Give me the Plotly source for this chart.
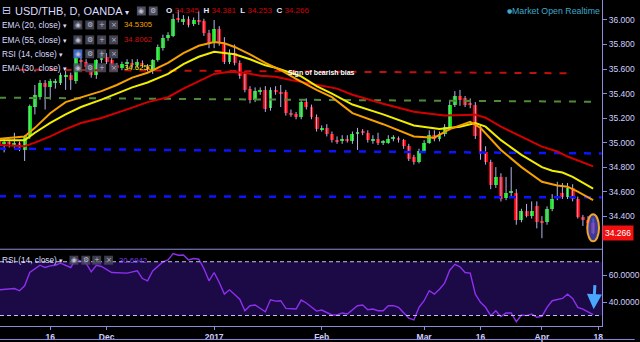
import plotly.graph_objects as go

# ---------------- data ----------------
opens = [35.02, 34.99, 35.00, 34.97, 35.00, 34.94, 35.05, 35.29, 35.37, 35.49,
         35.45, 35.49, 35.49, 35.54, 35.55, 35.50, 35.67, 35.66, 35.62, 35.55,
         35.67, 35.70, 35.67, 35.63, 35.61, 35.64, 35.65, 35.63, 35.65, 35.62,
         35.58, 35.67, 35.77, 35.85, 35.87, 36.01, 35.98, 36.01, 35.97, 36.00,
         35.99, 35.89, 35.81, 35.93, 35.81, 35.66, 35.73, 35.65, 35.56, 35.44,
         35.35, 35.42, 35.43, 35.28, 35.43, 35.41, 35.41, 35.24, 35.23, 35.21,
         35.33, 35.29, 35.21, 35.11, 35.12, 35.07, 35.02, 35.01, 35.03, 35.01,
         35.07, 35.09, 35.08, 35.02, 35.03, 35.00, 35.00, 35.03, 35.04, 35.02,
         34.97, 34.88, 34.84, 34.93, 35.00, 35.06, 35.03, 35.07, 35.12, 35.31,
         35.38, 35.36, 35.32, 35.31, 35.13, 34.92, 34.84, 34.65, 34.72, 34.55,
         34.59, 34.59, 34.37, 34.44, 34.40, 34.48, 34.36, 34.35, 34.46, 34.55,
         34.59, 34.56, 34.63, 34.54, 34.39, 34.37, 34.345]
highs = [35.04, 35.03, 35.02, 35.08, 35.01, 35.06, 35.31, 35.47, 35.51, 35.51,
         35.52, 35.52, 35.57, 35.61, 35.57, 35.70, 35.70, 35.68, 35.63, 35.68,
         35.75, 35.73, 35.69, 35.65, 35.66, 35.68, 35.68, 35.68, 35.67, 35.64,
         35.68, 35.80, 35.88, 35.90, 36.05, 36.08, 36.04, 36.03, 36.02, 36.07,
         36.01, 35.92, 36.00, 35.95, 35.86, 35.76, 35.80, 35.67, 35.58, 35.46,
         35.45, 35.45, 35.46, 35.45, 35.46, 35.47, 35.43, 35.27, 35.25, 35.35,
         35.36, 35.31, 35.23, 35.14, 35.15, 35.09, 35.05, 35.06, 35.06, 35.09,
         35.12, 35.11, 35.10, 35.06, 35.08, 35.02, 35.06, 35.06, 35.05, 35.03,
         34.99, 34.90, 34.95, 35.02, 35.10, 35.10, 35.09, 35.15, 35.34, 35.42,
         35.43, 35.38, 35.36, 35.33, 35.15, 34.97, 34.86, 34.80, 34.75, 34.72,
         34.80, 34.62, 34.46, 34.50, 34.52, 34.52, 34.40, 34.48, 34.58, 34.68,
         34.67, 34.67, 34.66, 34.56, 34.41, 34.40, 34.381]
lows = [34.95, 34.92, 34.96, 34.95, 34.93, 34.85, 35.03, 35.23, 35.35, 35.27,
        35.35, 35.44, 35.47, 35.43, 35.43, 35.48, 35.62, 35.60, 35.53, 35.52,
        35.65, 35.64, 35.60, 35.58, 35.59, 35.60, 35.61, 35.61, 35.61, 35.58,
        35.56, 35.66, 35.75, 35.83, 35.86, 35.98, 35.96, 35.94, 35.95, 35.96,
        35.87, 35.77, 35.77, 35.79, 35.64, 35.64, 35.63, 35.52, 35.41, 35.32,
        35.33, 35.39, 35.25, 35.26, 35.39, 35.29, 35.22, 35.21, 35.19, 35.19,
        35.27, 35.19, 35.09, 35.09, 35.05, 35.00, 34.99, 34.99, 35.00, 34.99,
        34.94, 35.06, 35.00, 34.99, 34.98, 34.98, 34.99, 35.01, 35.00, 34.95,
        34.85, 34.82, 34.83, 34.92, 34.99, 35.01, 35.01, 35.05, 35.10, 35.29,
        35.30, 35.29, 35.28, 35.03, 34.86, 34.82, 34.62, 34.63, 34.52, 34.53,
        34.55, 34.33, 34.35, 34.39, 34.38, 34.30, 34.22, 34.33, 34.44, 34.53,
        34.54, 34.54, 34.52, 34.38, 34.32, 34.30, 34.253]
closes = [34.97, 35.00, 34.99, 35.00, 34.94, 35.05, 35.30, 35.39, 35.49, 35.45,
          35.50, 35.50, 35.55, 35.545, 35.51, 35.69, 35.66, 35.62, 35.55, 35.67,
          35.72, 35.66, 35.62, 35.61, 35.64, 35.66, 35.64, 35.66, 35.63, 35.60,
          35.67, 35.78, 35.85, 35.88, 36.01, 36.00, 36.01, 35.96, 36.00, 35.98,
          35.89, 35.81, 35.93, 35.81, 35.66, 35.73, 35.65, 35.54, 35.43, 35.35,
          35.42, 35.43, 35.27, 35.43, 35.41, 35.40, 35.24, 35.23, 35.21, 35.33,
          35.29, 35.21, 35.11, 35.12, 35.07, 35.02, 35.01, 35.03, 35.01, 35.07,
          35.09, 35.08, 35.02, 35.03, 35.00, 35.01, 35.03, 35.04, 35.02, 34.97,
          34.87, 34.84, 34.93, 35.00, 35.06, 35.03, 35.07, 35.13, 35.31, 35.38,
          35.35, 35.31, 35.31, 35.05, 34.91, 34.84, 34.65, 34.72, 34.54, 34.59,
          34.595, 34.37, 34.44, 34.40, 34.44, 34.35, 34.35, 34.46, 34.54, 34.56,
          34.56, 34.63, 34.54, 34.39, 34.37, 34.345, 34.266]
bar_index = list(range(len(closes)))

ema20_x = [0, 5, 7, 10, 13, 16, 20, 23, 26, 29, 33, 36, 39, 42, 44, 46, 49, 52, 55, 58,
           62, 65, 69, 75, 81, 85, 88, 92, 94, 98, 102, 106, 109, 111, 113, 116]
ema20_y = [35.03, 35.05, 35.12, 35.24, 35.33, 35.37, 35.42, 35.47, 35.53, 35.57, 35.65,
           35.73, 35.79, 35.82, 35.81, 35.78, 35.72, 35.65, 35.59, 35.52, 35.43, 35.37,
           35.24, 35.15, 35.05, 35.04, 35.11, 35.17, 35.12, 34.94, 34.80, 34.68, 34.65,
           34.64, 34.60, 34.5305]
ema30_x = [0, 5, 7, 10, 13, 16, 20, 23, 26, 29, 33, 36, 39, 42, 44, 46, 49, 52, 54, 56,
           59, 62, 65, 69, 75, 81, 86, 90, 93, 95, 98, 102, 106, 108, 110, 112, 116]
ema30_y = [35.02, 35.02, 35.08, 35.16, 35.23, 35.29, 35.35, 35.40, 35.45, 35.49, 35.56,
           35.64, 35.70, 35.74, 35.73, 35.72, 35.68, 35.63, 35.61, 35.58, 35.54, 35.46,
           35.40, 35.31, 35.23, 35.14, 35.11, 35.13, 35.16, 35.13, 35.02, 34.90, 34.80,
           34.77, 34.756, 34.72, 34.6250]
ema55_x = [0, 5, 7, 10, 13, 16, 20, 23, 26, 29, 33, 36, 39, 42, 45, 48, 51, 54, 57, 60,
           63, 66, 69, 75, 81, 87, 93, 95, 98, 102, 106, 109, 111, 116]
ema55_y = [34.98, 34.97, 35.00, 35.05, 35.11, 35.16, 35.20, 35.24, 35.285, 35.33, 35.37,
           35.44, 35.50, 35.56, 35.577, 35.57, 35.545, 35.537, 35.51, 35.488, 35.463,
           35.44, 35.39, 35.317, 35.252, 35.22, 35.228, 35.203, 35.13, 35.05, 34.967,
           34.927, 34.886, 34.8062]

rsi_x = [0, 1, 3, 4, 5, 6, 8, 9, 10, 11, 12, 14, 15, 17, 18, 19, 20, 22, 25, 27, 28, 29,
         30, 32, 33, 34, 35, 36, 37, 38, 39, 40, 41, 42, 43, 44, 45, 47, 48, 49, 50, 52,
         53, 54, 55, 56, 58, 59, 60, 62, 63, 65, 66, 67, 68, 70, 71, 72, 73, 74, 75, 76,
         77, 78, 80, 81, 82, 83, 84, 85, 86, 87, 88, 89, 90, 91, 92, 93, 94, 95, 96, 97,
         98, 99, 100, 101, 102, 103, 104, 105, 106, 107, 108, 110, 111, 112, 113, 114,
         115, 116]
rsi_y = [49.1, 49.6, 50.1, 48.4, 52.1, 62.0, 67.4, 65.7, 66.9, 67.4, 68.9, 65.7, 71.9,
         68.9, 62.5, 67.4, 66.5, 62.0, 61.5, 63.2, 57.5, 55.8, 63.2, 69.9, 71.4, 76.0,
         74.8, 75.0, 71.4, 72.4, 71.9, 65.0, 55.8, 62.0, 54.6, 45.9, 49.1, 42.2, 33.6,
         37.3, 37.8, 32.8, 41.7, 40.7, 41.0, 35.3, 34.8, 41.5, 39.3, 33.3, 34.1, 30.4,
         30.4, 31.9, 31.1, 37.3, 37.8, 34.3, 34.8, 33.6, 33.6, 37.3, 37.3, 36.1, 28.1,
         26.7, 36.1, 41.0, 48.4, 45.9, 49.6, 54.1, 63.7, 68.1, 66.2, 62.0, 61.5, 45.9,
         39.8, 36.1, 29.9, 33.6, 29.2, 31.9, 31.9, 25.4, 30.4, 29.9, 31.1, 28.7, 29.4,
         36.1, 41.0, 42.7, 45.9, 42.7, 36.1, 34.8, 33.0, 30.6942]

# hand-drawn levels (bar index, price)
red_level_x, red_level_y = [4, 112], [35.595, 35.565]
green_level_x, green_level_y = [0, 116.7], [35.366, 35.333]
blue_up_x, blue_up_y = [0, 117.7], [34.951, 34.911]
blue_lo_x, blue_lo_y = [0, 117.7], [34.563, 34.553]

tick_pos = [10, 21, 42, 63, 83, 94, 106, 117]
tick_text = ["16", "Dec", "2017", "Feb", "Mar", "16", "Apr", "18"]
price_ticks = [34.4, 34.6, 34.8, 35.0, 35.2, 35.4, 35.6, 35.8, 36.0]
rsi_ticks = [40, 60]
symbol_title = "USD/THB, D, OANDA"

# ---------------- styling ----------------
FONT = "Liberation Sans, Arial, sans-serif"
AX = "#8c8cdc"
LBL = "#cfcfff"
UP, DN = "#00e400", "#ee0000"
W, H = 607.0, 327.0


def fx(px):
    return px / W


def fy(py):
    return (H - py) / H


fig = go.Figure()

# wicks
wx, wy = [], []
for i, lo, hi in zip(bar_index, lows, highs):
    wx += [i, i, None]
    wy += [lo, hi, None]
fig.add_trace(go.Scatter(x=wx, y=wy, mode="lines", line=dict(color="#b4b4f0", width=1),
                         hoverinfo="skip", xaxis="x", yaxis="y"))
# bodies
bases = [min(o, c) for o, c in zip(opens, closes)]
heights = [max(abs(c - o), 0.008) for o, c in zip(opens, closes)]
cols = [UP if c >= o else DN for o, c in zip(opens, closes)]
fig.add_trace(go.Bar(x=bar_index, y=heights, base=bases, width=0.76,
                     marker=dict(color=cols, line=dict(width=0)), xaxis="x", yaxis="y"))

# levels
for lx, ly, colr, w in [(green_level_x, green_level_y, "#4f8a3c", 2),
                        (red_level_x, red_level_y, "#c21010", 2),
                        (blue_up_x, blue_up_y, "#0a14ff", 2.5),
                        (blue_lo_x, blue_lo_y, "#0a14ff", 2.5)]:
    fig.add_trace(go.Scatter(x=lx, y=ly, mode="lines",
                             line=dict(color=colr, width=w, dash="7px,8px"),
                             xaxis="x", yaxis="y", hoverinfo="skip"))

# EMAs
for ex, ey, colr in [(ema55_x, ema55_y, "#d40000"), (ema30_x, ema30_y, "#f2ee00"),
                     (ema20_x, ema20_y, "#f5a000")]:
    fig.add_trace(go.Scatter(x=ex, y=ey, mode="lines", line=dict(color=colr, width=2),
                             xaxis="x", yaxis="y", hoverinfo="skip"))

# RSI
fig.add_trace(go.Scatter(x=rsi_x, y=rsi_y, mode="lines", line=dict(color="#8e2ff0", width=1.4),
                         xaxis="x", yaxis="y2", hoverinfo="skip"))

shapes = []
ann = []

# RSI band
shapes.append(dict(type="rect", xref="paper", yref="y2", x0=0, x1=1, y0=30, y1=70,
                   fillcolor="#1c0a46", line=dict(width=0), layer="below"))
for lvl in (30, 70):
    shapes.append(dict(type="line", xref="paper", yref="y2", x0=0, x1=1, y0=lvl, y1=lvl,
                       line=dict(color="#c0c0ee", width=1, dash="4px,3px")))
# panel separator and bottom border
shapes.append(dict(type="line", xref="paper", yref="paper", x0=0, x1=1, y0=fy(250), y1=fy(250),
                   line=dict(color=AX, width=1)))
shapes.append(dict(type="line", xref="paper", yref="paper", x0=0, x1=640 / W, y0=fy(340.5),
                   y1=fy(340.5), line=dict(color=AX, width=1)))

# highlight ellipse around last candle
li, lc = bar_index[-1], closes[-1]
shapes.append(dict(type="circle", xref="x", yref="y", x0=li - 1.15, x1=li + 1.15,
                   y0=lc - 0.071, y1=lc + 0.149, fillcolor="rgba(80,80,215,0.72)",
                   line=dict(color="#f2a52a", width=2)))


def txt(x, y, s, size, color, family=FONT):
    ann.append(dict(x=fx(x), y=fy(y), xref="paper", yref="paper", text=s, showarrow=False,
                    xanchor="left", yanchor="middle", font=dict(size=size, color=color, family=family)))


def icons(x0s, yc, first="#4d4d5e", glyph_col="#bdbdd0", opacity=1.0):
    glyphs = ["◉", "⚙", "+", "×"]
    for k, x0 in enumerate(x0s):
        shapes.append(dict(type="rect", xref="paper", yref="paper", x0=fx(x0), x1=fx(x0 + 9),
                           y0=fy(yc + 4.5), y1=fy(yc - 4.5), line=dict(width=0),
                           fillcolor=first if k == 0 else "#4d4d5e", opacity=opacity))
        ann.append(dict(x=fx(x0 + 4.5), y=fy(yc), xref="paper", yref="paper", text=glyphs[k],
                        showarrow=False, xanchor="center", yanchor="middle",
                        font=dict(size=7, color=glyph_col, family="DejaVu Sans")))


# title row
txt(0, 11, "⊟", 11, LBL, "DejaVu Sans")
txt(13, 11, symbol_title + " <span style='font-size:8px'>▾</span>", 11, "#dcdcff")
icons([138, 150], 11)
ohlc = [("O", opens[-1]), ("H", highs[-1]), ("L", lows[-1]), ("C", closes[-1])]
header = "  ".join(f"<b>{lab}</b> <span style='color:#d40000'>{v:.3f}</span>" for lab, v in ohlc)
txt(165, 11, header, 8, "#e8e8ff")

txt(509, 11, "●", 6, "#3fa8c8", "DejaVu Sans")
txt(514, 11, "Market Open Realtime", 8.8, "#3fa8c8")

legend_rows = [("EMA (20, close)", 25, f"{ema20_y[-1]:.4f}", "#f5a000", "#4d4d5e"),
               ("EMA (55, close)", 40, f"{ema55_y[-1]:.4f}", "#cc1010", "#4d4d5e"),
               ("RSI (14, close)", 54, "", None, "#4a78e0"),
               ("EMA (30, close)", 68, f"{ema30_y[-1]:.4f}", "#f2ee00", "#4d4d5e")]
for label, yc, val, vc, first in legend_rows:
    txt(0, yc, label + " <span style='font-size:7px'>▾</span>", 8.3, "#dcdcff")
    icons([74, 86, 98, 110], yc, first=first, opacity=0.85)
    if val:
        txt(123, yc, val, 7.8, vc)

# RSI legend in lower panel
txt(0, 261, "RSI (14, close) <span style='font-size:7px'>▾</span>", 8.3, "#dcdcff")
icons([70, 82, 93, 105], 261, opacity=0.8)
txt(118, 261, f"{rsi_y[-1]:.4f}", 7.8, "#7d3ff0")

# annotation text
ann.append(dict(x=56, y=35.57, xref="x", yref="y", text="<b>Sign of bearish bias</b>", showarrow=False,
                xanchor="left", yanchor="middle", font=dict(size=7, color="#ffffff", family=FONT)))

# last price label
ann.append(dict(x=1, y=lc, xref="paper", yref="y", text=f"{lc:.3f}", showarrow=False,
                xanchor="left", yanchor="middle", bgcolor="#f01010", borderpad=2,
                font=dict(size=8.5, color="#ffffff", family=FONT)))

# arrow in RSI panel
ann.append(dict(x=li + 0.1, y=rsi_y[-1] + 4, xref="x", yref="y2", ax=li + 0.35, ay=rsi_y[-1] + 23,
                axref="x", ayref="y2", text="", showarrow=True, arrowhead=2, arrowsize=1.0,
                arrowwidth=3, arrowcolor="#4aa6ff"))

fig.update_layout(
    width=640, height=342, margin=dict(l=0, r=33, t=0, b=15),
    paper_bgcolor="#000000", plot_bgcolor="#000000", showlegend=False,
    bargap=0, shapes=shapes, annotations=ann,
    xaxis=dict(range=[0.19, 117.73], anchor="y2", tickvals=tick_pos,
               ticktext=["<b>" + t + "</b>" for t in tick_text],
               ticks="outside", ticklen=3, tickcolor=AX, showline=True, linecolor=AX,
               showgrid=False, zeroline=False,
               tickfont=dict(size=8.5, color=LBL, family=FONT)),
    yaxis=dict(domain=[fy(250), 1], range=[34.130, 36.163], side="right", anchor="x",
               tickvals=price_ticks, tickformat=".3f", ticks="outside", ticklen=4,
               tickcolor=AX, showline=True, linecolor=AX, showgrid=False, zeroline=False,
               tickfont=dict(size=8.5, color=LBL, family=FONT)),
    yaxis2=dict(domain=[0, fy(250)], range=[22.2, 79.3], side="right", anchor="x",
                tickvals=rsi_ticks, ticktext=[f"{t:.4f}" for t in rsi_ticks], ticks="outside",
                ticklen=4, tickcolor=AX, showline=True, linecolor=AX, showgrid=False,
                zeroline=False, tickfont=dict(size=8.5, color=LBL, family=FONT)),
)

fig.write_html("out.html", config={"displayModeBar": False})
